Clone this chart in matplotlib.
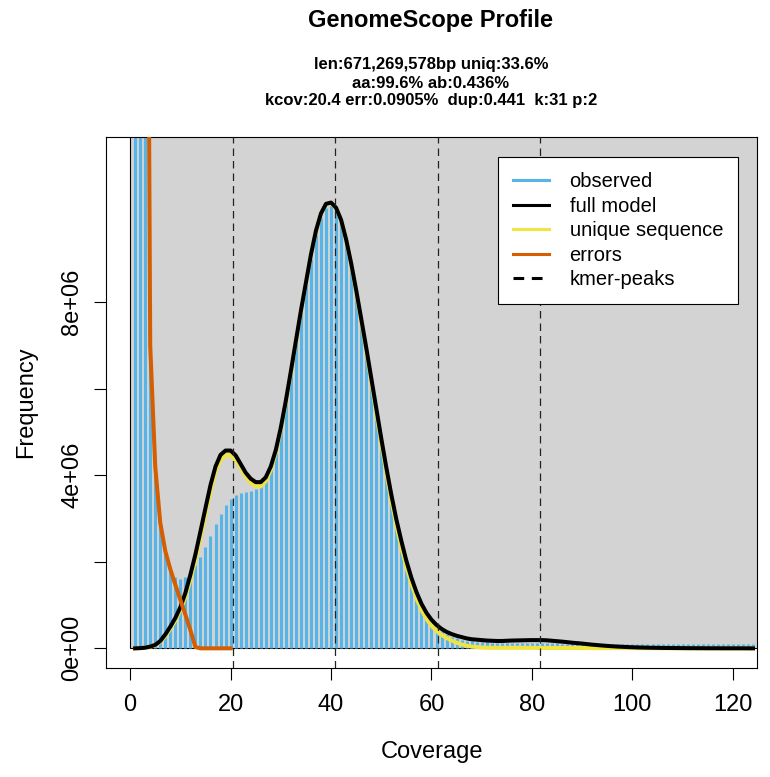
import matplotlib
matplotlib.use("Agg")
import matplotlib.pyplot as plt
import numpy as np
from matplotlib.lines import Line2D

plt.rcParams["font.family"] = ["Liberation Sans", "DejaVu Sans"]

# coverage 1..124
coverage = np.arange(1, 125)

# observed k-mer frequencies (millions)
observed = [
    200.0, 80.0, 35.0, 8.0, 4.3, 2.9, 2.2, 1.83, 1.65, 1.60,
    1.64, 1.75, 1.92, 2.10, 2.34, 2.60, 2.87, 3.11, 3.31, 3.46,
    3.54, 3.59, 3.62, 3.64, 3.67, 3.75, 4.02, 4.30, 4.65, 5.10,
    5.68, 6.35, 7.05, 7.75, 8.40, 9.00, 9.55, 9.95, 10.18, 10.22,
    10.10, 9.82, 9.38, 8.83, 8.20, 7.52, 6.84, 6.14, 5.44, 4.75,
    4.08, 3.45, 2.88, 2.38, 1.93, 1.55, 1.22, 0.96, 0.76, 0.60,
    0.48, 0.39, 0.32, 0.27, 0.23, 0.20, 0.18, 0.16, 0.15, 0.14,
    0.135, 0.13, 0.13, 0.13, 0.13, 0.125, 0.125, 0.125, 0.12, 0.12,
    0.12, 0.12, 0.115, 0.115, 0.115, 0.11, 0.11, 0.11, 0.11, 0.105,
    0.105, 0.105, 0.10, 0.10, 0.10, 0.10, 0.10, 0.10, 0.10, 0.10,
    0.10, 0.10, 0.095, 0.095, 0.095, 0.095, 0.095, 0.095, 0.095, 0.095,
    0.09, 0.09, 0.09, 0.09, 0.09, 0.09, 0.09, 0.09, 0.09, 0.09,
    0.09, 0.09, 0.09, 0.09,
]

full_model = [
    0.0, 0.005, 0.015, 0.04, 0.08, 0.17, 0.32, 0.50, 0.70, 0.95,
    1.28, 1.70, 2.17, 2.70, 3.24, 3.77, 4.20, 4.47, 4.57, 4.57,
    4.46, 4.26, 4.06, 3.92, 3.84, 3.84, 3.95, 4.20, 4.58, 5.10,
    5.72, 6.40, 7.10, 7.80, 8.45, 9.10, 9.65, 10.05, 10.27, 10.30,
    10.18, 9.90, 9.45, 8.90, 8.28, 7.62, 6.95, 6.25, 5.55, 4.85,
    4.18, 3.55, 2.98, 2.48, 2.02, 1.63, 1.30, 1.03, 0.82, 0.66,
    0.54, 0.45, 0.38, 0.33, 0.29, 0.26, 0.23, 0.21, 0.20, 0.19,
    0.18, 0.175, 0.17, 0.17, 0.175, 0.18, 0.183, 0.185, 0.188, 0.19,
    0.19, 0.19, 0.185, 0.175, 0.165, 0.155, 0.143, 0.13, 0.12, 0.11,
    0.097, 0.085, 0.075, 0.065, 0.056, 0.048, 0.041, 0.035, 0.03, 0.025,
    0.021, 0.018, 0.015, 0.013, 0.011, 0.009, 0.008, 0.007, 0.006, 0.005,
    0.004, 0.004, 0.003, 0.003, 0.002, 0.002, 0.002, 0.001, 0.001, 0.001,
    0.001, 0.001, 0.0, 0.0,
]

unique_seq = [
    0.0, 0.005, 0.015, 0.035, 0.07, 0.15, 0.28, 0.45, 0.64, 0.88,
    1.18, 1.58, 2.04, 2.56, 3.10, 3.63, 4.08, 4.35, 4.46, 4.46,
    4.36, 4.17, 3.97, 3.83, 3.75, 3.74, 3.86, 4.12, 4.52, 5.05,
    5.68, 6.37, 7.08, 7.79, 8.44, 9.09, 9.64, 10.04, 10.26, 10.29,
    10.17, 9.89, 9.43, 8.87, 8.24, 7.57, 6.88, 6.17, 5.45, 4.74,
    4.06, 3.42, 2.84, 2.33, 1.88, 1.49, 1.16, 0.89, 0.68, 0.52,
    0.40, 0.31, 0.24, 0.18, 0.13, 0.09, 0.06, 0.04, 0.03, 0.02,
] + [0.012] * 10 + [0.008] * 10 + [0.005] * 10 + [0.002] * 10 + [0.0] * 14

errors = [
    150.0, 70.0, 30.0, 7.0, 4.2, 2.9, 2.25, 1.83, 1.47, 1.12,
    0.78, 0.42, 0.03, 0.0, 0.0, 0.0, 0.0, 0.0, 0.0, 0.0,
]

kcov = 20.4
peak_multiples = [1, 2, 3, 4]

title = "GenomeScope Profile"
subtitle = [
    "len:671,269,578bp uniq:33.6%",
    "aa:99.6% ab:0.436%",
    "kcov:20.4 err:0.0905%  dup:0.441  k:31 p:2",
]

C_OBS = "#56B4E9"
C_FULL = "black"
C_UNIQ = "#F0E442"
C_ERR = "#D55E00"

obs = np.array(observed) * 1e6
full = np.array(full_model) * 1e6
uniq = np.array(unique_seq) * 1e6
err = np.array(errors) * 1e6

fig = plt.figure(figsize=(7.7, 7.77), dpi=100)
ax = fig.add_axes([106 / 770, 1 - 668 / 777, 651 / 770, 531 / 777])

xmax, ymax = 120, 11.36e6
ax.set_xlim(-0.04 * xmax, 1.04 * xmax)
ax.set_ylim(-0.04 * ymax, 1.04 * ymax)

ax.add_patch(plt.Rectangle((0, 0), 200, 60e6, facecolor="#D3D3D3",
                           edgecolor="black", linewidth=0.8, zorder=0))

ax.vlines(coverage, 0, obs, color=C_OBS, linewidth=2.2, capstyle="butt", zorder=2)
ax.plot(coverage, uniq, color=C_UNIQ, lw=2.9, zorder=3, solid_joinstyle="round")
ax.plot(coverage, full, color=C_FULL, lw=2.9, zorder=4, solid_joinstyle="round")
ax.plot(coverage[:len(err)], err, color=C_ERR, lw=2.9, zorder=5, solid_joinstyle="round")
for m in peak_multiples:
    ax.axvline(kcov * m, color="#222222", lw=0.9, ls=(0, (6, 4)), zorder=6)

ax.set_xticks(np.arange(0, 121, 20))
ax.set_yticks(np.arange(0, 9e6, 2e6))
ax.set_yticklabels(["0e+00", "", "4e+06", "", "8e+06"], rotation=90, va="center")
ax.tick_params(axis="both", direction="out", length=8.5, width=0.8, labelsize=17)
ax.tick_params(axis="x", pad=10.5)
ax.tick_params(axis="y", pad=8)
for s in ax.spines.values():
    s.set_linewidth(0.8)
ax.set_xlabel("Coverage", fontsize=17, labelpad=18)
ax.set_ylabel("Frequency", fontsize=17, labelpad=17)

handles = [
    Line2D([], [], color=C_OBS, lw=2.2),
    Line2D([], [], color=C_FULL, lw=2.2),
    Line2D([], [], color=C_UNIQ, lw=2.2),
    Line2D([], [], color=C_ERR, lw=2.2),
    Line2D([], [], color="black", lw=2.2, ls=(0, (3.5, 2.5))),
]
labels = ["observed", "full model", "unique sequence", "errors", "kmer-peaks"]
leg = ax.legend(handles, labels, loc="upper right", bbox_to_anchor=(0.971, 0.962),
                borderaxespad=0, fontsize=14.5, frameon=True, fancybox=False,
                handlelength=1.8, handletextpad=1.0, labelspacing=0.27,
                borderpad=0.75)
leg.get_frame().set_edgecolor("black")
leg.get_frame().set_linewidth(0.8)
leg.get_frame().set_alpha(1)
leg.set_zorder(10)

fig.text(431 / 770, 1 - 21 / 777, title, ha="center", va="center", fontsize=17, fontweight="bold")
for txt, yc in zip(subtitle, [65, 83, 101]):
    fig.text(431 / 770, 1 - yc / 777, txt, ha="center", va="center", fontsize=12, fontweight="bold")

fig.savefig("out.png", dpi=100, facecolor="white")
